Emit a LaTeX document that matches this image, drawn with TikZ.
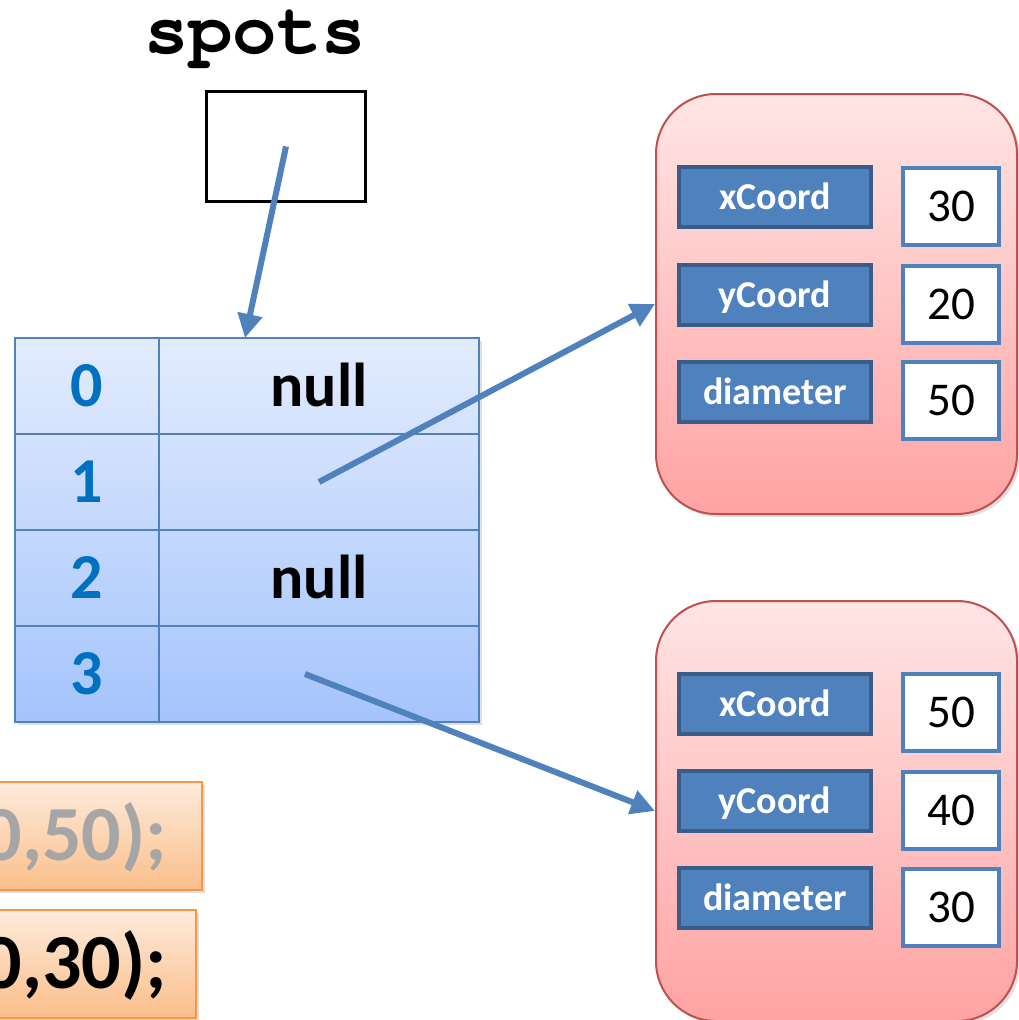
\documentclass[tikz,border=0pt]{standalone}
\usepackage[T1]{fontenc}
\usepackage{fontspec}
\setmainfont{Carlito}
\newcommand{\codefont}{\fontencoding{T1}\fontfamily{pcr}\fontseries{b}\selectfont}
\usepackage{xcolor}
\usetikzlibrary{shadows,arrows.meta}

\definecolor{arrblue}{RGB}{79,129,189}
\definecolor{idxblue}{RGB}{0,112,192}
\definecolor{lbldark}{RGB}{56,93,138}
\definecolor{objred}{RGB}{192,80,77}
\definecolor{objtop}{RGB}{255,229,229}
\definecolor{objbot}{RGB}{255,163,163}
\definecolor{tabtop}{RGB}{227,236,253}
\definecolor{tabbot}{RGB}{164,196,252}
\definecolor{codetop}{RGB}{253,235,220}
\definecolor{codebot}{RGB}{251,190,138}
\definecolor{codeedge}{RGB}{247,150,70}
\definecolor{oldcode}{RGB}{166,166,166}

\tikzset{
  softshadow/.style={drop shadow={opacity=0.25, shadow xshift=3pt, shadow yshift=-3pt}},
  idxcell/.style={draw=arrblue, line width=2pt, minimum width=144pt, minimum height=96pt, inner sep=0pt,
    text=idxblue, text height=40pt, text depth=0pt, font=\fontsize{64}{70}\selectfont\bfseries},
  refcell/.style={draw=arrblue, line width=2pt, minimum width=320pt, minimum height=96pt, inner sep=0pt,
    text height=40pt, text depth=0pt, font=\fontsize{62}{70}\selectfont\bfseries},
  spotobj/.style={draw=objred, line width=2pt, rounded corners=60pt, top color=objtop, bottom color=objbot,
    minimum width=361pt, minimum height=420pt, softshadow},
  fieldname/.style={fill=arrblue, draw=lbldark, line width=4pt, minimum width=192pt, minimum height=60pt,
    inner sep=0pt, text=white, text height=24pt, text depth=0pt, font=\fontsize{38}{40}\selectfont\bfseries},
  fieldval/.style={fill=white, draw=arrblue, line width=4pt, minimum width=96pt, minimum height=77pt,
    inner sep=0pt, text width=88pt, align=center, text height=30pt, text depth=0pt,
    font=\fontsize{47}{50}\selectfont},
  codeline/.style={draw=codeedge, line width=2pt, top color=codetop, bottom color=codebot, softshadow,
    anchor=east, minimum height=108pt, inner ysep=0pt, text height=49pt, text depth=0pt,
    font=\fontsize{78}{80}\selectfont\bfseries},
  ptr/.style={draw=arrblue, line width=6pt, -{Triangle[length=24pt,width=24pt]}}
}

\begin{document}
\begin{tikzpicture}[x=1pt, y=-1pt]
  \useasboundingbox (0,0) rectangle (1019,1020);

  % the reference variable
  \node[font=\fontsize{74}{74}\codefont, anchor=base, text height=44pt, inner sep=0pt] (spotsname) at (255,53) {spots};
  \node[draw, line width=3pt, minimum width=159pt, minimum height=110pt] (spotbox) at (286,146.5) {};

  % the array
  \path[top color=tabtop, bottom color=tabbot, softshadow] (15,338) rectangle (479,722);
  \node[idxcell] (i0) at (87,386) {0};
  \node[idxcell] (i1) at (87,482) {1};
  \node[idxcell] (i2) at (87,578) {2};
  \node[idxcell] (i3) at (87,674) {3};
  \node[refcell] (v0) at (319,386) {null};
  \node[refcell] (v1) at (319,482) {};
  \node[refcell] (v2) at (319,578) {null};
  \node[refcell] (v3) at (319,674) {};
  \coordinate (arrtop) at (245,338);

  % first Spot object
  \node[spotobj] (obj1) at (836.5,304) {};
  \node[fieldname] (x1) at (775,197) {xCoord};
  \node[fieldname] (y1) at (775,295) {yCoord};
  \node[fieldname] (d1) at (775,392) {diameter};
  \node[fieldval] (xv1) at (951,206) {30\hspace*{8pt}};
  \node[fieldval] (yv1) at (951,304.5) {20\hspace*{8pt}};
  \node[fieldval] (dv1) at (951,400.5) {50\hspace*{8pt}};

  % second Spot object
  \node[spotobj] (obj2) at (836.5,811) {};
  \node[fieldname] (x2) at (775,704) {xCoord};
  \node[fieldname] (y2) at (775,801) {yCoord};
  \node[fieldname] (d2) at (775,898) {diameter};
  \node[fieldval] (xv2) at (951,712.5) {50\hspace*{8pt}};
  \node[fieldval] (yv2) at (951,810.5) {40\hspace*{8pt}};
  \node[fieldval] (dv2) at (951,907) {30\hspace*{8pt}};

  % code lines
  \node[codeline, text=oldcode, inner xsep=35pt] (code1) at (203,836) {0,50);};
  \node[codeline, inner xsep=29pt] (code2) at (197,963.5) {0,30);};

  % references
  \draw[ptr] (spotbox.center) -- (arrtop);
  \draw[ptr] (v1.center) -- (obj1.west);
  \draw[ptr] ([xshift=-14pt]v3.center) -- (obj2.west);
\end{tikzpicture}
\end{document}
